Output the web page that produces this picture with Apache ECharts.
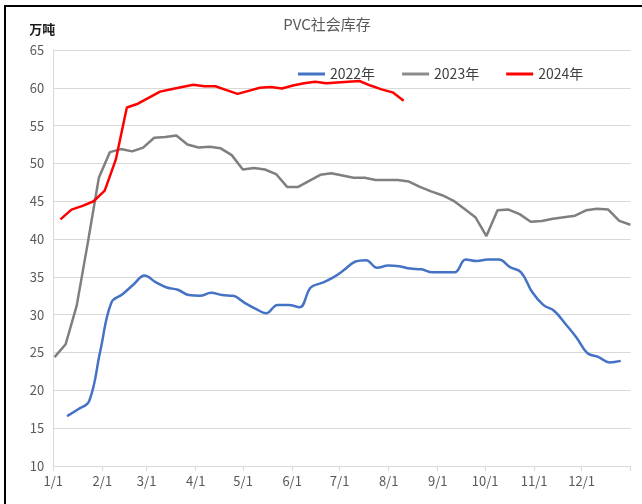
<!DOCTYPE html>
<html><head><meta charset="utf-8">
<script src="https://cdn.jsdelivr.net/npm/echarts@6/dist/echarts.min.js"></script>
<style>
html,body{margin:0;padding:0;background:#fff;}
#wrap{position:relative;width:642px;height:504px;overflow:hidden;}
#frame{position:absolute;left:4px;top:5px;width:700px;height:600px;border-left:2px solid #000;border-top:2px solid #000;}
#chart{position:absolute;left:0;top:0;width:642px;height:504px;}
</style></head>
<body><div id="wrap"><div id="frame"></div><div id="chart"></div></div>
<script>
// tick positions (day of year) and labels
const monthStartDays = [0, 31, 59, 90, 120, 151, 181, 212, 243, 273, 304, 334];
const monthLabels = ['1/1','2/1','3/1','4/1','5/1','6/1','7/1','8/1','9/1','10/1','11/1','12/1'];
const seriesNames = ['2022年','2023年','2024年'];

// weekly observations: first observation day-of-year, then values
const start2022 = 8.7;
const values2022 = [16.6,17.5,18.6,25.2,31.6,32.7,34.0,35.2,34.3,33.6,33.3,32.6,32.5,32.9,32.6,32.5,31.6,30.8,30.2,31.3,31.3,31.0,33.6,34.2,34.9,35.9,37.0,37.2,36.2,36.5,36.4,36.1,36.0,35.6,35.6,35.6,37.3,37.1,37.3,37.3,36.3,35.6,33.0,31.3,30.5,28.8,27.0,24.9,24.4,23.7,23.9];

const start2023 = 0.8;
const values2023 = [24.4,26.1,31.2,39.5,48.1,51.5,51.9,51.6,52.1,53.4,53.5,53.7,52.5,52.1,52.2,52.0,51.1,49.2,49.4,49.2,48.6,46.9,46.9,47.7,48.5,48.7,48.4,48.1,48.1,47.8,47.8,47.8,47.6,46.9,46.3,45.8,45.1,44.0,42.9,40.4,43.8,43.9,43.3,42.3,42.4,42.7,42.9,43.1,43.8,44.0,43.9,42.4,41.9];

const start2024 = 4.5;
const values2024 = [42.6,43.9,44.4,45.0,46.4,50.5,57.4,57.9,58.7,59.5,59.8,60.1,60.4,60.2,60.2,59.7,59.2,59.6,60.0,60.1,59.9,60.3,60.6,60.8,60.6,60.7,60.8,60.9,60.3,59.8,59.4,58.3];

function weekly(start, vals){ return vals.map((v,i)=>[start + 7*i, v]); }

const FONT = "'Liberation Sans Narrow','Noto Sans CJK SC',sans-serif";
const chart = echarts.init(document.getElementById('chart'));
chart.setOption({
  animation:false,
  backgroundColor:'transparent',
  title:{
    text:'PVC社会库存', left:322, top:12, textAlign:'center',
    textStyle:{color:'#595959', fontSize:15, fontWeight:'normal', fontFamily:FONT}
  },
  legend:{
    data:seriesNames, left:293, top:62, icon:'rect', itemWidth:27, itemHeight:3, itemGap:27,
    textStyle:{color:'#404040', fontSize:14, fontFamily:FONT}
  },
  grid:{left:53.3, right:11.3, top:50, bottom:38},
  xAxis:{
    type:'value', min:0, max:365,
    axisLine:{show:true, lineStyle:{color:'#d9d9d9'}},
    axisTick:{show:true, length:5, lineStyle:{color:'#d9d9d9'}, customValues: monthStartDays.concat([365])},
    axisLabel:{color:'#595959', fontSize:13, fontFamily:FONT, margin:9,
      customValues: monthStartDays,
      formatter:function(v){ const i = monthStartDays.indexOf(v); return i>=0 ? monthLabels[i] : ''; }},
    splitLine:{show:false}
  },
  yAxis:{
    type:'value', min:10, max:65, interval:5,
    name:'万吨', nameLocation:'end', nameGap:14,
    nameTextStyle:{color:'#1a1a1a', fontSize:13, fontWeight:'bold', fontFamily:FONT, align:'right', padding:[0,-2,0,0]},
    axisLine:{show:true, lineStyle:{color:'#d9d9d9'}},
    axisTick:{show:false},
    axisLabel:{color:'#595959', fontSize:13, fontFamily:FONT, margin:9},
    splitLine:{show:true, lineStyle:{color:'#d9d9d9', width:1}}
  },
  series:[
    {name:seriesNames[0], type:'line', data:weekly(start2022, values2022), smooth:0.4, showSymbol:false, symbol:'none',
     lineStyle:{color:'#4472C4', width:2.5}, itemStyle:{color:'#4472C4'}},
    {name:seriesNames[1], type:'line', data:weekly(start2023, values2023), showSymbol:false, symbol:'none',
     lineStyle:{color:'#7f7f7f', width:2.5}, itemStyle:{color:'#8c8c8c'}},
    {name:seriesNames[2], type:'line', data:weekly(start2024, values2024), showSymbol:false, symbol:'none',
     lineStyle:{color:'#ff0000', width:2.5}, itemStyle:{color:'#ff0000'}}
  ]
});
</script></body></html>
